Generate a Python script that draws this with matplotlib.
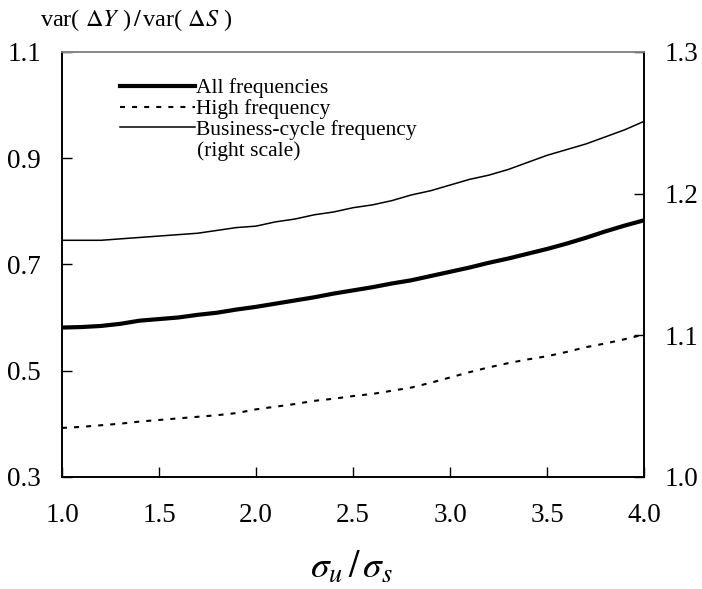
import matplotlib
matplotlib.use('Agg')
import matplotlib.pyplot as plt
from matplotlib.lines import Line2D

plt.rcParams['font.family'] = ['Liberation Serif', 'DejaVu Serif']
plt.rcParams['mathtext.fontset'] = 'stix'

ratio = [1.0, 1.1, 1.2, 1.3, 1.4, 1.5, 1.6, 1.7, 1.8, 1.9, 2.0,
         2.1, 2.2, 2.3, 2.4, 2.5, 2.6, 2.7, 2.8, 2.9, 3.0,
         3.1, 3.2, 3.3, 3.4, 3.5, 3.6, 3.7, 3.8, 3.9, 4.0]

all_freq = [0.581, 0.582, 0.584, 0.588, 0.594, 0.597, 0.600, 0.605, 0.609, 0.615, 0.620,
            0.626, 0.632, 0.638, 0.645, 0.651, 0.657, 0.664, 0.670, 0.678, 0.686,
            0.694, 0.703, 0.711, 0.720, 0.729, 0.739, 0.750, 0.762, 0.773, 0.783]

high_freq = [0.392, 0.394, 0.397, 0.400, 0.404, 0.407, 0.410, 0.413, 0.416, 0.420, 0.427,
             0.432, 0.437, 0.443, 0.447, 0.452, 0.456, 0.462, 0.468, 0.477, 0.487,
             0.497, 0.506, 0.514, 0.521, 0.527, 0.535, 0.544, 0.551, 0.559, 0.568]

bc_freq = [1.167, 1.167, 1.167, 1.168, 1.169, 1.170, 1.171, 1.172, 1.174, 1.176, 1.177,
           1.180, 1.182, 1.185, 1.187, 1.190, 1.192, 1.195, 1.199, 1.202, 1.206,
           1.210, 1.213, 1.217, 1.222, 1.227, 1.231, 1.235, 1.240, 1.245, 1.251]

x_ticks = [1.0, 1.5, 2.0, 2.5, 3.0, 3.5, 4.0]
left_ticks = [0.3, 0.5, 0.7, 0.9, 1.1]
right_ticks = [1.0, 1.1, 1.2, 1.3]

fig = plt.figure(figsize=(7.02, 5.89), dpi=100)
ax = fig.add_axes([0.0883, 0.1905, 0.8291, 0.7213])
ax2 = ax.twinx()

dash = (0, (2.4, 3.4))
ax.plot(ratio, all_freq, color='black', lw=3.0, solid_joinstyle='round')
ax.plot(ratio, high_freq, color='black', lw=1.5, linestyle=dash)
ax2.plot(ratio, bc_freq, color='black', lw=1.1)

ax.set_xlim(1.0, 4.0)
ax.set_ylim(0.3, 1.1)
ax2.set_ylim(1.0, 1.3)
ax.set_xticks(x_ticks)
ax.set_xticklabels([f'{v:.1f}' for v in x_ticks])
ax.set_yticks(left_ticks)
ax.set_yticklabels([f'{v:.1f}' for v in left_ticks])
ax2.set_yticks(right_ticks)
ax2.set_yticklabels([f'{v:.1f}' for v in right_ticks])

ax.tick_params(axis='x', direction='in', length=7, width=1, pad=19, labelsize=19.5)
ax.tick_params(axis='y', direction='in', length=7, width=1, pad=15, labelsize=19.5)
ax2.tick_params(axis='y', direction='in', length=7, width=1, pad=15, labelsize=19.5)

for a in (ax, ax2):
    for name, s in a.spines.items():
        s.set_linewidth(1.2)
        s.set_color('#888888' if name == 'top' else 'black')

handles = [Line2D([], [], color='black', lw=3.0),
           Line2D([], [], color='black', lw=1.5, linestyle=dash),
           Line2D([], [], color='black', lw=1.1)]
labels = ['All frequencies', 'High frequency', 'Business-cycle frequency']
ax.legend(handles, labels, loc='upper left', bbox_to_anchor=(0.0997, 0.938),
          frameon=False, fontsize=15.5, handlelength=3.5, handletextpad=0.05,
          labelspacing=0.03, borderaxespad=0, borderpad=0)
ax.text(0.232, 0.766, '(right scale)', transform=ax.transAxes,
        fontsize=15.5, ha='left', va='center')

fig.text(0.057, 0.966, r'var( $\Delta Y$ )$\,/\,$var( $\Delta S$ )',
         fontsize=17.5, ha='left', va='center')
fig.text(0.501, 0.036, r'$\sigma_u\,/\,\sigma_s$', fontsize=27, ha='center', va='center')

fig.savefig('out.png', dpi=100)
